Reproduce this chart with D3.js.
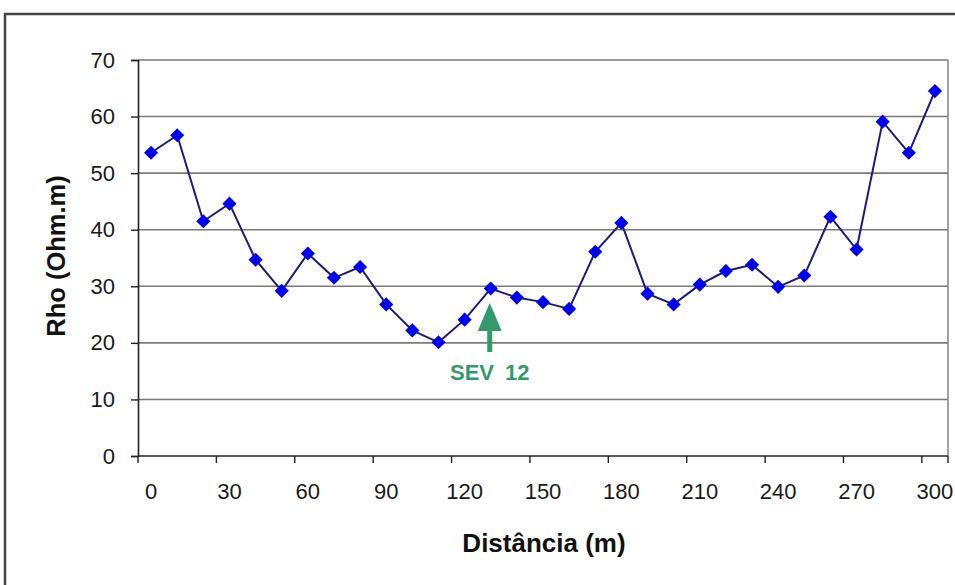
<!DOCTYPE html>
<html><head><meta charset="utf-8">
<script src="https://cdn.jsdelivr.net/npm/d3@7"></script>
<style>body{margin:0;background:#fff}svg{display:block}text{font-family:"Liberation Sans",Arial,sans-serif}</style>
</head><body>
<svg id="c" width="955" height="585"></svg>
<script>
const distances = [0,10,20,30,40,50,60,70,80,90,100,110,120,130,140,150,160,170,180,190,200,210,220,230,240,250,260,270,280,290,300];
const rho = [53.6,56.7,41.5,44.6,34.7,29.2,35.8,31.5,33.4,26.8,22.2,20.1,24.1,29.6,28.0,27.2,26.0,36.1,41.2,28.7,26.8,30.3,32.7,33.8,29.9,31.9,42.3,36.5,59.1,53.6,64.5];
const yTicks = [0,10,20,30,40,50,60,70];
const xLabels = [0,30,60,90,120,150,180,210,240,270,300];
const annotation = {label:"SEV 12", at:130};

const svg = d3.select("#c");
const L=138, R=948, T=60, B=456;

// outer frame
svg.append("rect").attr("x",5).attr("y",14).attr("width",1000).attr("height",1000)
  .attr("fill","none").attr("stroke","#444").attr("stroke-width",2.5);

const x = d3.scaleBand().domain(distances).range([L,R]).padding(0);
const y = d3.scaleLinear().domain([0,70]).range([B,T]);
const cx = d => x(d)+x.bandwidth()/2;

// gridlines
svg.append("g").selectAll("line").data(yTicks.filter(v=>v>0)).join("line")
  .attr("x1",L).attr("x2",R).attr("y1",d=>y(d)).attr("y2",d=>y(d))
  .attr("stroke","#7a7a7a").attr("stroke-width",1.6);
// right border
svg.append("line").attr("x1",R).attr("x2",R).attr("y1",T).attr("y2",B)
  .attr("stroke","#8a8a8a").attr("stroke-width",1.6);

// y axis
const yAxis = svg.append("g").attr("transform",`translate(${L},0)`)
  .call(d3.axisLeft(y).tickValues(yTicks).tickSize(7).tickPadding(16).tickFormat(d3.format("d")));
yAxis.select(".domain").attr("stroke","#222").attr("stroke-width",1.6);
yAxis.selectAll(".tick line").attr("stroke","#222").attr("stroke-width",1.4);
yAxis.selectAll("text").attr("font-size",22).attr("fill","#1a1a1a");

// x axis: ticks between categories every 3
const xAxisG = svg.append("g").attr("transform",`translate(0,${B})`);
xAxisG.append("line").attr("x1",L).attr("x2",R).attr("stroke","#222").attr("stroke-width",1.6);
const tickPos = distances.filter((d,i)=>i%3===0).map(d=>x(d));
tickPos.push(R);
xAxisG.selectAll(".tk").data(tickPos).join("line").attr("class","tk")
  .attr("x1",d=>d).attr("x2",d=>d).attr("y1",0).attr("y2",7)
  .attr("stroke","#222").attr("stroke-width",1.4);
xAxisG.selectAll(".lb").data(xLabels).join("text").attr("class","lb")
  .attr("x",d=>cx(d)).attr("y",43).attr("text-anchor","middle")
  .attr("font-size",22).attr("fill","#1a1a1a").text(d=>d);

// axis titles
svg.append("text").attr("x",544).attr("y",552).attr("text-anchor","middle")
  .attr("font-size",26).attr("font-weight","bold").attr("fill","#111").text("Distância (m)");
svg.append("text").attr("transform",`translate(65,256) rotate(-90)`).attr("text-anchor","middle")
  .attr("font-size",25.5).attr("font-weight","bold").attr("fill","#111").text("Rho (Ohm.m)");

// line
const line = d3.line().x((d,i)=>cx(distances[i])).y(d=>y(d));
svg.append("path").datum(rho).attr("d",line).attr("fill","none")
  .attr("stroke","#1c1c78").attr("stroke-width",2);

// markers (diamonds)
svg.append("g").selectAll("path").data(rho).join("path")
  .attr("d",d3.symbol(d3.symbolSquare, 100)())
  .attr("transform",(d,i)=>`translate(${cx(distances[i])},${y(d)}) rotate(45)`)
  .attr("fill","#0000f0");

// annotation arrow
const ax = cx(annotation.at) - 1;
const ag = svg.append("g").attr("fill","#349a6c");
ag.append("path").attr("d",`M${ax},303 L${ax-12},331 L${ax+12},331 Z`);
ag.append("rect").attr("x",ax-2.5).attr("y",330).attr("width",5).attr("height",22);
ag.append("text").attr("x",ax).attr("y",380).attr("text-anchor","middle")
  .attr("font-size",22).attr("font-weight","bold").attr("xml:space","preserve").text(annotation.label.replace(" ","\u2002"));
</script>
</body></html>
